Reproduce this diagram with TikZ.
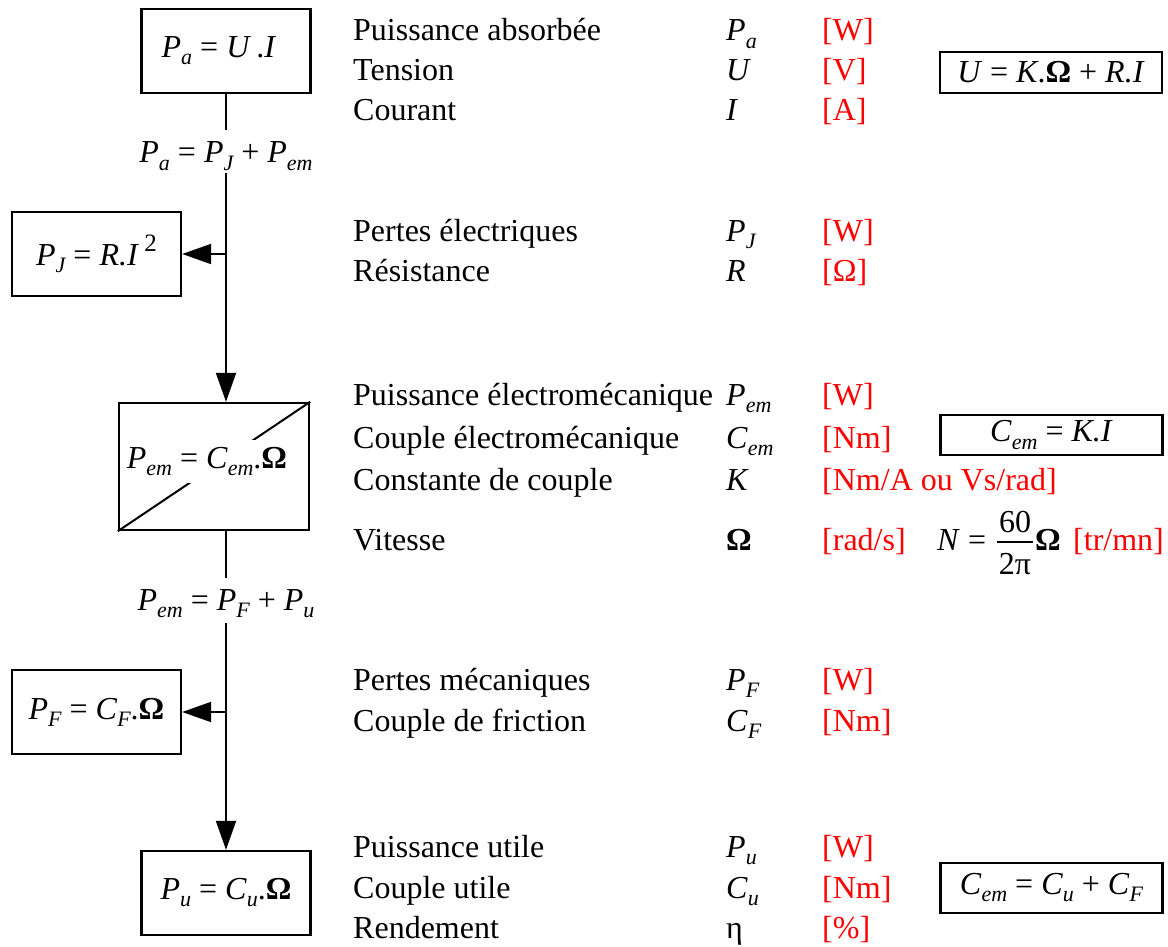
\documentclass[tikz,border=0pt]{standalone}
\usepackage{fontspec}
\setmainfont{Liberation Serif}
\usetikzlibrary{arrows.meta}
\newcommand{\ssub}[1]{\raisebox{-0.22em}{\fontsize{22}{22}\selectfont\itshape #1}}
\newcommand{\ssup}[1]{\raisebox{0.42em}{\fontsize{25}{25}\selectfont #1}}
\newcommand{\vq}[2]{\textit{#1}\ssub{#2}}
\newcommand{\Om}{\textbf{Ω}}
\begin{document}
\begin{tikzpicture}[x=1pt,y=-1pt,font=\fontsize{32}{38}\selectfont,
  box/.style={draw,line width=2.4pt,minimum width=169pt,minimum height=84pt,inner sep=0pt},
  eqbox/.style={draw,line width=2.8pt,minimum width=222pt,inner sep=0pt},
  desc/.style={anchor=base west,inner sep=0pt},
  unit/.style={anchor=base west,inner sep=0pt,text=red},
  conn/.style={line width=2pt},
  arr/.style={line width=2pt,-{Triangle[length=29pt,width=20pt]}}]
\useasboundingbox (0,0) rectangle (1168,947);
% left flow
\node[box] (pa) at (226,51) {\vq{P}{a} = \textit{U}\,.\textit{I}\hspace*{14pt}};
\node[anchor=base,inner sep=0pt] (l1) at (226,163) {\vq{P}{a} = \vq{P}{J} + \vq{P}{em}};
\node[box] (pj) at (96.5,254) {\vq{P}{J} = \textit{R.I}\,\ssup{2}};
\node[box,minimum width=190pt,minimum height=127pt] (pem) at (214,466.5) {};
\draw[conn] (pem.south west) -- (pem.north east);
\node[anchor=base,fill=white,inner xsep=2pt,inner ysep=7.5pt] (pemt) at (207,468.5) {\vq{P}{em} = \vq{C}{em}.\Om};
\node[anchor=base,inner sep=0pt] (l2) at (226,610) {\vq{P}{em} = \vq{P}{F} + \vq{P}{u}};
\node[box] (pf) at (96.5,712) {\vq{P}{F} = \vq{C}{F}.\Om};
\node[box] (pu) at (226,893) {\vq{P}{u} = \vq{C}{u}.\Om};
\coordinate (j1) at (226,254);
\coordinate (j2) at (226,712);
\draw[conn] (pa) -- ([yshift=12pt]l1.north);
\draw[arr] ([yshift=-3pt]l1.south) -- (l1 |- pem.north);
\draw[arr] (j1) -- (pj.east);
\draw[conn] (pem.south -| l2) -- ([yshift=11pt]l2.north);
\draw[arr] ([yshift=-5pt]l2.south) -- (pu.north);
\draw[arr] (j2) -- (pf.east);
% descriptions
\node[desc] (d1) at (353,41) {Puissance absorbée};
\node[desc] (d2) at (353,81) {Tension};
\node[desc] (d3) at (353,121) {Courant};
\node[desc] (d4) at (353,241) {Pertes électriques};
\node[desc] (d5) at (353,281) {Résistance};
\node[desc] (d6) at (353,405) {Puissance électromécanique};
\node[desc] (d7) at (353,448) {Couple électromécanique};
\node[desc] (d8) at (353,490) {Constante de couple};
\node[desc] (d9) at (353,550) {Vitesse};
\node[desc] (d10) at (353,690) {Pertes mécaniques};
\node[desc] (d11) at (353,731) {Couple de friction};
\node[desc] (d12) at (353,857) {Puissance utile};
\node[desc] (d13) at (353,898) {Couple utile};
\node[desc] (d14) at (353,938) {Rendement};
% symbols
\node[desc] (s1) at (726,41) {\vq{P}{a}};
\node[desc] (s2) at (726,81) {\textit{U}};
\node[desc] (s3) at (726,121) {\textit{I}};
\node[desc] (s4) at (726,241) {\vq{P}{J}};
\node[desc] (s5) at (726,281) {\textit{R}};
\node[desc] (s6) at (726,405) {\vq{P}{em}};
\node[desc] (s7) at (726,448) {\vq{C}{em}};
\node[desc] (s8) at (726,490) {\textit{K}};
\node[desc] (s9) at (726,550) {\Om};
\node[desc] (s10) at (726,690) {\vq{P}{F}};
\node[desc] (s11) at (726,731) {\vq{C}{F}};
\node[desc] (s12) at (726,857) {\vq{P}{u}};
\node[desc] (s13) at (726,898) {\vq{C}{u}};
\node[desc] (s14) at (726,938) {η};
% units
\node[unit] (u1) at (822,41) {[W]};
\node[unit] (u2) at (822,81) {[V]};
\node[unit] (u3) at (822,121) {[A]};
\node[unit] (u4) at (822,241) {[W]};
\node[unit] (u5) at (822,281) {[Ω]};
\node[unit] (u6) at (822,405) {[W]};
\node[unit] (u7) at (822,448) {[Nm]};
\node[unit] (u8) at (822,490) {[Nm/A ou Vs/rad]};
\node[unit] (u9) at (822,550) {[rad/s]};
\node[unit] (u10) at (822,690) {[W]};
\node[unit] (u11) at (822,731) {[Nm]};
\node[unit] (u12) at (822,857) {[W]};
\node[unit] (u13) at (822,898) {[Nm]};
\node[unit] (u14) at (822,938) {[\%]};
% speed formula
\node[desc] (nN) at (937,550) {\textit{N} =};
\node[anchor=base,inner sep=0pt] (n60) at (1015,532) {60};
\node[anchor=base,inner sep=0pt] (n2pi) at (1015,574) {2π};
\draw[line width=1.6pt] (997,542) -- (1033,542);
\node[desc] (nOm) at (1035,550) {\Om};
\node[unit] (ntr) at (1073,550) {[tr/mn]};
% equation boxes
\node[eqbox,minimum height=41pt] (e1) at (1051,72.5) {\textit{U} = \textit{K}.\Om{} + \textit{R.I}};
\node[eqbox,minimum height=40pt] (e2) at (1051.5,435) {\vq{C}{em} = \textit{K.I}};
\node[eqbox,minimum height=50pt] (e3) at (1051.5,888) {\vq{C}{em} = \vq{C}{u} + \vq{C}{F}};
\end{tikzpicture}
\end{document}
